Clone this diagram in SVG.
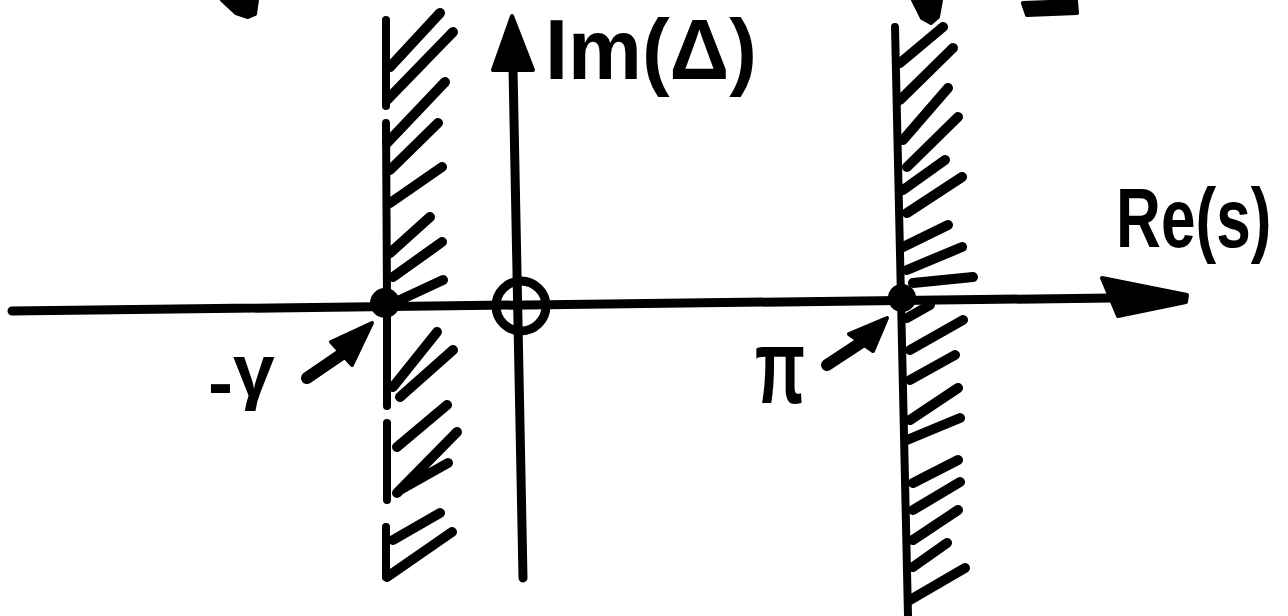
<svg xmlns="http://www.w3.org/2000/svg" width="1288" height="616" viewBox="0 0 1288 616">
<style>
.ln{stroke:#000;fill:none;stroke-linecap:round;stroke-linejoin:round}
.ax{stroke-width:9}
.wall{stroke-width:8}
.hatch{stroke-width:10}
.fill{fill:#000;stroke:#000;stroke-width:4;stroke-linejoin:round}
.lbl{font-family:"Liberation Sans",Arial,sans-serif;font-weight:bold;fill:#000}
</style>
<rect width="1288" height="616" fill="#fff"/>
<g id="top-fragments">
<path class="fill" d="M222,0 L257,0 L255,14 L248,17 L236,13 Z"/>
<path class="fill" d="M913,0 L941,0 L938,17 L931,23 L922,18 Z"/>
<path class="fill" d="M1023,3 L1076,1 L1077,13 L1027,15 Z"/>
</g>
<g id="connectors">
<g id="real-axis">
<path class="ln ax" d="M12,311 L1112,298"/>
<polygon class="fill" points="1102,278 1187,295 1186,302 1118,316"/>
</g>
<g id="imag-axis">
<path class="ln ax" d="M523,578 L513,68"/>
<polygon class="fill" points="512,16 493,70 533,70"/>
</g>
<g id="gamma-arrow">
<path class="ln" stroke-width="12" d="M307,378 L345,352"/>
<polygon class="fill" points="331,342 372,323 352,365"/>
</g>
<g id="pi-arrow">
<path class="ln" stroke-width="12" d="M827,365 L862,342"/>
<polygon class="fill" points="849,334 887,318 873,351"/>
</g>
</g>
<g id="left-boundary">
<path class="ln wall" d="M386,20 L386,106 M386,123 L387,300 M387,300 L387,406 M387,423 L387,500 M386,527 L386,577"/>
<path class="ln hatch" d="M390,67 L440,13 M387,100 L453,32 M387,143 L445,82 M390,170 L438,123 M390,203 L442,167 M390,253 L430,217 M393,277 L442,242 M400,300 L443,280 M393,387 L437,332 M400,397 L453,350 M397,447 L447,405 M397,493 L457,432 M400,490 L448,463 M393,540 L440,513 M387,577 L452,532"/>
<circle cx="385" cy="303" r="15" fill="#000"/>
</g>
<g id="origin">
<circle cx="521" cy="306" r="25" fill="none" stroke="#000" stroke-width="9"/>
</g>
<g id="right-boundary">
<path class="ln wall" d="M895,27 L908,616"/>
<path class="ln hatch" d="M900,63 L943,27 M900,100 L953,48 M903,140 L948,88 M907,167 L958,117 M903,190 L945,160 M907,213 L962,177 M903,247 L948,225 M907,270 L962,247 M913,283 L973,277 M907,318 L930,305 M910,350 L963,320 M910,380 L955,355 M910,420 L958,388 M907,440 L960,418 M913,483 L958,460 M913,510 L960,482 M913,540 L958,510 M913,567 L947,543 M910,600 L965,568"/>
<circle cx="902" cy="298" r="14" fill="#000"/>
</g>
<g id="label-im">
<text class="lbl" x="545" y="79" font-size="86" textLength="212" lengthAdjust="spacingAndGlyphs">Im(Δ)</text>
</g>
<g id="label-re">
<text class="lbl" transform="translate(1116,247) scale(0.74,1)" x="0" y="0" font-size="84">Re(s)</text>
</g>
<g id="label-gamma">
<text class="lbl" x="208" y="408" font-size="75">-<tspan dy="-12">γ</tspan></text>
</g>
<g id="label-pi">
<text class="lbl" x="755" y="403" font-size="105" textLength="50" lengthAdjust="spacingAndGlyphs">π</text>
</g>
</svg>
